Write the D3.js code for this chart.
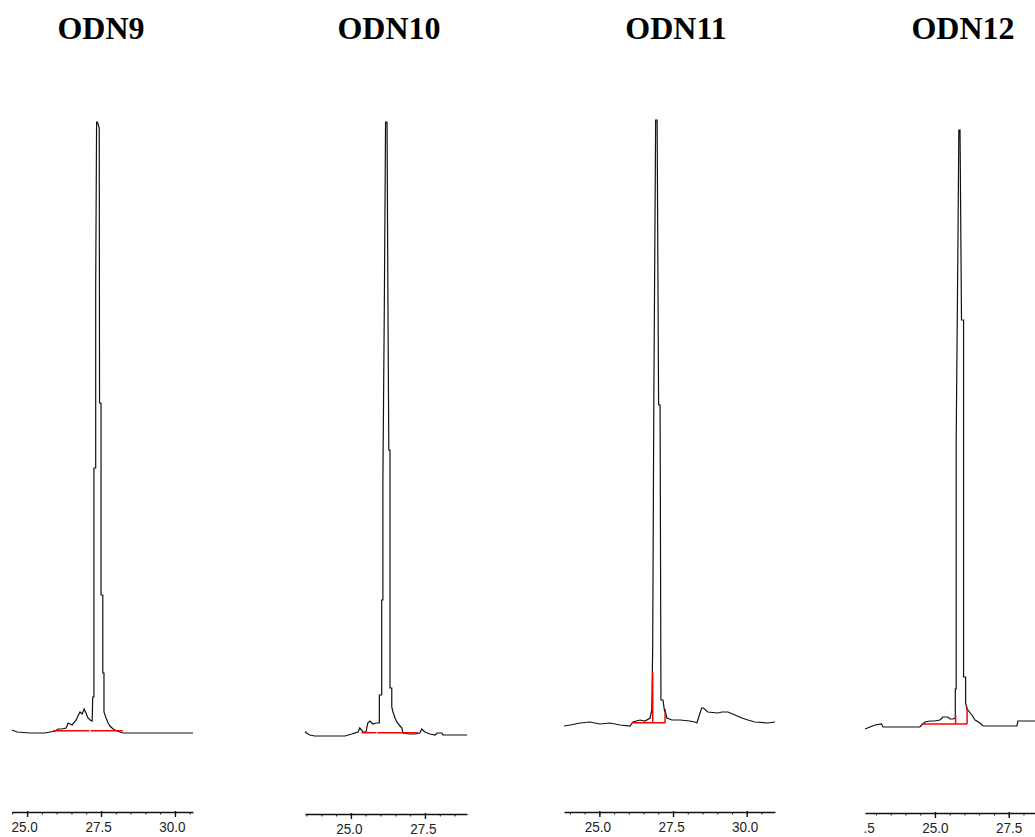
<!DOCTYPE html>
<html lang="en">
  <head>
    <meta charset="UTF-8" />
    <title>ODN9 – ODN12 chromatograms</title>
    <script src="https://d3js.org/d3.v7.min.js"></script>
    <style>
      body {
        margin: 0;
        padding: 0;
        background: #fff;
      }
      svg {
        display: block;
      }
    </style>
  </head>
  <body>
    <svg width="1035" height="837"></svg>
    <script>
      // sample names
      const names = ["ODN9", "ODN10", "ODN11", "ODN12"];

      // visible time window of each trace (min)
      const timeWindows = [
        [24.49, 30.61],
        [23.45, 28.92],
        [23.8, 30.96],
        [22.63, 28.56],
      ];

      // ODN9 trace: retention time (min) / detector signal
      const odn9Time = [
        24.49, 24.66, 25.1, 25.61, 25.78, 25.95, 26.05, 26.18, 26.32, 26.39,
        26.52, 26.66, 26.72, 26.79, 26.86, 26.93, 26.99, 27.06, 27.13, 27.2,
        27.22, 27.26, 27.26, 27.32, 27.32, 27.35, 27.38, 27.44, 27.45, 27.5,
        27.5, 27.56, 27.56, 27.6, 27.6, 27.67, 27.74, 27.8, 27.91, 28.04,
        28.24, 30.61,
      ];
      const odn9Signal = [
        10, 8, 7, 7, 8, 9, 11, 11, 12, 17, 15, 20, 24, 28, 26, 31, 27, 22, 20,
        19, 43, 43, 272, 272, 453, 618, 618, 612, 337, 337, 145, 145, 67, 67,
        28, 22, 17, 14, 11, 9, 7, 7,
      ];
      // integration baseline segments [start, end, signal]
      const odn9Base = [
        [25.88, 27.11, 9.3],
        [27.15, 28.24, 9.3],
      ];
      const odn9Drops = [];

      const odn10Time = [
        23.45, 23.61, 23.78, 24.8, 25.03, 25.24, 25.3, 25.41, 25.51, 25.57,
        25.64, 25.74, 25.84, 25.91, 25.96, 25.96, 26.04, 26.04, 26.08, 26.08,
        26.13, 26.17, 26.22, 26.25, 26.28, 26.32, 26.32, 26.38, 26.38, 26.42,
        26.49, 26.55, 26.66, 26.72, 26.76, 26.99, 27.16, 27.33, 27.39, 27.5,
        27.67, 27.84, 27.91, 28.07, 28.11, 28.92,
      ];
      const odn10Signal = [
        8, 5, 4, 4, 6, 8, 12, 8, 8, 17, 19, 16, 17, 17, 17, 45, 45, 140, 140,
        260, 440, 618, 618, 440, 290, 290, 52, 52, 33, 28, 22, 18, 14, 12, 7, 6,
        6, 7, 11, 8, 6, 5, 7, 7, 5, 5,
      ];
      const odn10Base = [
        [23.45, 23.5, 8],
        [25.36, 25.86, 7.3],
        [25.89, 27.26, 7.3],
      ];
      const odn10Drops = [];

      const odn11Time = [
        23.8, 24.01, 24.35, 24.68, 25.02, 25.36, 25.7, 26.04, 26.14, 26.38,
        26.55, 26.72, 26.78, 26.81, 26.85, 26.91, 26.96, 27.01, 27.06, 27.09,
        27.16, 27.21, 27.23, 27.29, 27.46, 27.74, 28.07, 28.24, 28.31, 28.47,
        28.53, 28.68, 29.02, 29.16, 29.36, 29.6, 29.84, 30.04, 30.28, 30.72,
        30.96,
      ];
      const odn11Signal = [
        14, 15, 17, 18, 16, 17, 15, 14, 18, 20, 19, 22, 30, 95, 350, 620, 620,
        335, 335, 40, 40, 29, 30, 22, 20, 20, 19, 18, 17, 32, 32, 28, 27, 28,
        28, 25, 22, 20, 18, 17, 18,
      ];
      const odn11Base = [[26.11, 27.23, 17.3]];
      // drop lines [time, from, to]
      const odn11Drops = [
        [26.81, 17.3, 68],
        [27.23, 17.3, 29],
      ];

      const odn12Time = [
        22.63, 22.8, 22.97, 23.19, 23.24, 23.81, 24.49, 24.55, 24.66, 24.83,
        25.0, 25.17, 25.27, 25.44, 25.51, 25.61, 25.69, 25.69, 25.72, 25.72,
        25.78, 25.81, 25.85, 25.9, 25.97, 25.97, 26.04, 26.04, 26.09, 26.12,
        26.25, 26.36, 26.53, 26.63, 27.78, 27.81, 28.56,
      ];
      const odn12Signal = [
        11, 13, 15, 16, 13, 13, 13, 15, 18, 19, 19, 20, 23, 23, 21, 21, 22, 51,
        51, 300, 500, 610, 610, 420, 420, 63, 63, 37, 30, 30, 25, 20, 17, 14,
        14, 19, 19,
      ];
      const odn12Base = [[24.55, 26.09, 16]];
      const odn12Drops = [
        [25.7, 16, 25],
        [26.09, 16, 33],
      ];

      const traces = [
        { time: odn9Time, signal: odn9Signal, base: odn9Base, drops: odn9Drops },
        { time: odn10Time, signal: odn10Signal, base: odn10Base, drops: odn10Drops },
        { time: odn11Time, signal: odn11Signal, base: odn11Base, drops: odn11Drops },
        { time: odn12Time, signal: odn12Signal, base: odn12Base, drops: odn12Drops },
      ];

      // layout of the four panels (pixels)
      const panelX = [
        [12, 193],
        [305, 467],
        [564, 775],
        [865, 1040],
      ];
      const clipLeft = [11, 304, 563, 863];
      const axisY = [812, 814, 812, 813];
      const labelDx = [-3, -2, -2, 0];
      const titleX = [101, 389, 676, 963];

      const svg = d3.select("svg");

      const y = d3.scaleLinear().domain([0, 625]).range([740, 115]);

      svg
        .selectAll("text.title")
        .data(names)
        .join("text")
        .attr("class", "title")
        .attr("x", (d, i) => titleX[i])
        .attr("y", 39)
        .attr("text-anchor", "middle")
        .attr("font-family", "'Liberation Serif', 'Times New Roman', serif")
        .attr("font-weight", "bold")
        .attr("font-size", 32)
        .text((d) => d);

      traces.forEach((tr, i) => {
        const x = d3.scaleLinear().domain(timeWindows[i]).range(panelX[i]);

        svg
          .append("clipPath")
          .attr("id", "clip" + i)
          .append("rect")
          .attr("x", clipLeft[i])
          .attr("y", 0)
          .attr("width", panelX[i][1] - clipLeft[i] + 1)
          .attr("height", 837);

        const g = svg.append("g").attr("clip-path", `url(#clip${i})`);

        const line = d3
          .line()
          .x((d) => x(d[0]))
          .y((d) => y(d[1]));

        g.append("path")
          .datum(d3.zip(tr.time, tr.signal))
          .attr("fill", "none")
          .attr("stroke", "#111")
          .attr("stroke-width", 1.2)
          .attr("d", line);

        g.selectAll("line.base")
          .data(tr.base)
          .join("line")
          .attr("class", "base")
          .attr("x1", (d) => x(d[0]))
          .attr("x2", (d) => x(d[1]))
          .attr("y1", (d) => y(d[2]))
          .attr("y2", (d) => y(d[2]))
          .attr("stroke", "#ff0000")
          .attr("stroke-width", 1.5);

        g.selectAll("line.drop")
          .data(tr.drops)
          .join("line")
          .attr("class", "drop")
          .attr("x1", (d) => x(d[0]))
          .attr("x2", (d) => x(d[0]))
          .attr("y1", (d) => y(d[1]))
          .attr("y2", (d) => y(d[2]))
          .attr("stroke", "#ff0000")
          .attr("stroke-width", 1.5);

        // time axis: minor ticks every 0.5 min, labels every 2.5 min
        const [t0, t1] = timeWindows[i];
        const all = d3.range(Math.ceil((t0 - 0.15) * 2) / 2, t1 + 0.001, 0.5);
        const major = all.filter((v) => Math.abs(v / 2.5 - Math.round(v / 2.5)) < 1e-6);

        const ax = g.append("g").attr("transform", `translate(0,${axisY[i]})`);

        ax.append("g")
          .call(d3.axisBottom(x).tickValues(all).tickSize(2.5).tickSizeOuter(0).tickFormat(""))
          .call((s) => s.select(".domain").attr("stroke-width", 1.6).attr("stroke", "#111"));

        ax.append("g")
          .call(
            d3
              .axisBottom(x)
              .tickValues(major)
              .tickSize(5)
              .tickSizeOuter(0)
              .tickFormat(d3.format(".1f"))
          )
          .call((s) => s.select(".domain").remove())
          .call((s) => s.selectAll(".tick line").attr("y1", -1).attr("stroke-width", 1.4))
          .call((s) =>
            s
              .selectAll(".tick text")
              .attr("font-family", "'Liberation Sans', Arial, sans-serif")
              .attr("font-size", 13.5)
              .attr("fill", "#222")
              .attr("dx", labelDx[i])
              .attr("transform", "scale(1,1.15)")
          );

        ax.selectAll(".tick line").attr("stroke", "#111");
      });
    </script>
  </body>
</html>
